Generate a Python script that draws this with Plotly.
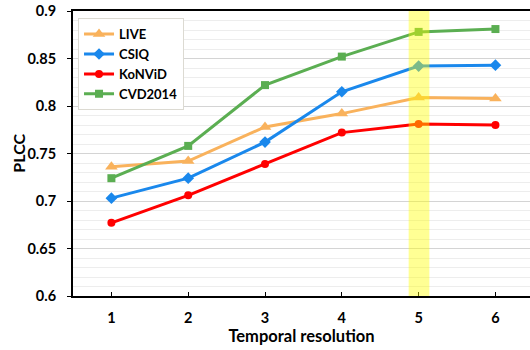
import plotly.graph_objects as go

resolutions = [1, 2, 3, 4, 5, 6]
live = [0.736, 0.742, 0.778, 0.792, 0.809, 0.808]
csiq = [0.703, 0.724, 0.762, 0.815, 0.842, 0.843]
konvid = [0.677, 0.706, 0.739, 0.772, 0.781, 0.780]
cvd2014 = [0.724, 0.758, 0.822, 0.852, 0.878, 0.881]
y_ticks = [0.6, 0.65, 0.7, 0.75, 0.8, 0.85, 0.9]
y_tick_text = ["0.6", "0.65", "0.7", "0.75", "0.8", "0.85", "0.9"]
highlight = 5

FONT = "Lato"
series = [
    ("LIVE", live, "#F9B25C", "triangle-up", 11),
    ("CSIQ", csiq, "#1A88EC", "diamond", 9),
    ("KoNViD", konvid, "#FF0000", "circle", 8),
    ("CVD2014", cvd2014, "#5BAE52", "square", 8),
]

fig = go.Figure()
for name, vals, color, sym, size in series:
    fig.add_trace(go.Scatter(
        x=resolutions, y=vals, name=name, mode="lines+markers",
        line=dict(color=color, width=3),
        marker=dict(color=color, symbol=sym, size=size),
    ))

fig.add_shape(type="rect", xref="x", yref="paper",
              x0=highlight - 0.13, x1=highlight + 0.14, y0=0, y1=1,
              fillcolor="rgba(255,255,0,0.42)", line=dict(width=0), layer="above")

fig.add_annotation(text="PLCC", xref="paper", yref="paper", x=-0.12, y=0.5,
                   xanchor="center", yanchor="middle", textangle=-90, showarrow=False,
                   font=dict(family=FONT, size=16, color="black", weight="bold"))

fig.update_layout(
    width=530, height=350,
    margin=dict(l=73, r=0, t=11, b=54),
    paper_bgcolor="white", plot_bgcolor="white",
    font=dict(family=FONT, color="black"),
    showlegend=True,
    legend=dict(x=0.011, y=0.975, xanchor="left", yanchor="top",
                bgcolor="white", bordercolor="#dcdad2", borderwidth=1,
                font=dict(family=FONT, size=13, color="black", weight="bold"),
                tracegroupgap=0),
    xaxis=dict(
        range=[0.5, 6.45], tickmode="array", tickvals=resolutions,
        ticks="inside", ticklen=4, tickcolor="black",
        showline=True, linecolor="black", linewidth=2, mirror=True,
        showgrid=False, zeroline=False, automargin=False,
        tickfont=dict(family=FONT, size=14.5, color="black", weight="bold"),
        ticklabelstandoff=8,
        title=dict(text="Temporal resolution", standoff=4,
                   font=dict(family=FONT, size=16.5, color="black", weight="bold")),
    ),
    yaxis=dict(
        range=[0.6, 0.9], tickmode="array", tickvals=y_ticks, ticktext=y_tick_text,
        ticks="outside", ticklen=4, tickcolor="black",
        showline=True, linecolor="black", linewidth=2,
        showgrid=True, gridcolor="#d4d4d4", gridwidth=1, zeroline=False,
        automargin=False,
        minor=dict(dtick=0.01, showgrid=True, gridcolor="#ededed", gridwidth=1),
        tickfont=dict(family=FONT, size=14.5, color="black", weight="bold"),
        ticklabelstandoff=8,
    ),
)

fig.write_html("out.html", config={"displayModeBar": False},
               post_script="document.body.style.margin='0';document.body.style.padding='0';")
